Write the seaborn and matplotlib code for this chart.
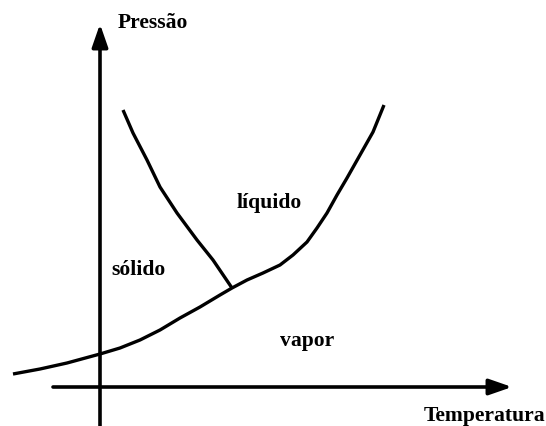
import matplotlib
matplotlib.use("Agg")
import matplotlib.pyplot as plt
import seaborn as sns
import pandas as pd

# Schematic phase diagram (arbitrary units; y grows downward like the picture)
vap_T = [13, 40, 67, 100, 120, 140, 160, 180, 200, 220, 232, 247, 263, 280, 293,
         307, 317, 327, 337, 347, 360, 373, 384]
vap_P = [374, 369, 363, 354, 348, 340, 330, 318, 307, 295, 288, 280, 273, 265, 255,
         242, 228, 213, 195, 178, 155, 132, 105]

melt_T = [123, 133, 147, 160, 177, 197, 213, 232]
melt_P = [110, 133, 160, 187, 213, 240, 260, 288]

labels = ["sólido", "líquido", "vapor"]
label_T = [139, 269, 307]
label_P = [275, 208, 346]

x_axis_label = "Temperatura"
y_axis_label = "Pressão"

sns.set_theme(style="white")
plt.rcParams["font.family"] = ["Liberation Serif", "DejaVu Serif"]

fig = plt.figure(figsize=(5.46, 4.26), dpi=100)
ax = fig.add_axes([0, 0, 1, 1])
ax.set_xlim(0, 546)
ax.set_ylim(426, 0)
ax.axis("off")

vap = pd.DataFrame({"T": vap_T, "P": vap_P})
melt = pd.DataFrame({"T": melt_T, "P": melt_P})
for df in (vap, melt):
    sns.lineplot(data=df, x="T", y="P", sort=False, color="black", lw=2.4, ax=ax,
                 solid_joinstyle="round", solid_capstyle="butt")

# axes arrows
arrow = dict(arrowstyle="-|>,head_length=1.15,head_width=0.4", color="black", lw=2.6,
             shrinkA=0, shrinkB=0)
ax.annotate("", xy=(100, 24), xytext=(100, 430), arrowprops=arrow)
ax.annotate("", xy=(512, 387), xytext=(53, 387), arrowprops=arrow)

fs = 15.6
ax.text(118, 28, y_axis_label, fontsize=fs, fontweight="bold", ha="left",
        va="baseline", color="black")
ax.text(545, 421, x_axis_label, fontsize=fs, fontweight="bold", ha="right",
        va="baseline", color="black")
for lab, t, p in zip(labels, label_T, label_P):
    ax.text(t, p, lab, fontsize=fs, fontweight="bold", ha="center", va="baseline",
            color="black")

fig.savefig("out.png", dpi=100, facecolor="white")
